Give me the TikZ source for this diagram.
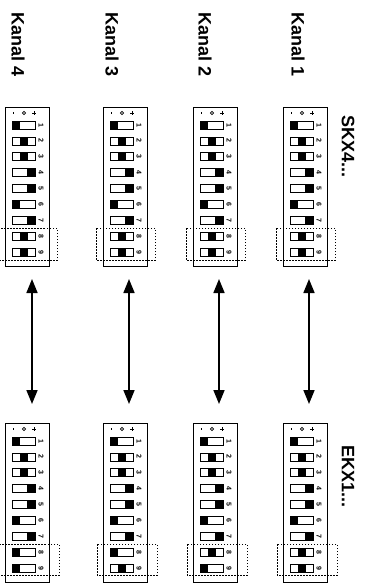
\documentclass[tikz,border=0pt]{standalone}
\usepackage{fontspec}
\setmainfont{Liberation Sans}
\usetikzlibrary{arrows.meta}
\tikzset{
  frame/.style={draw, line width=0.9pt, inner sep=0pt, minimum width=44pt, minimum height=159pt, anchor=north west},
  swbox/.style={draw, line width=0.7pt},
  dashbox/.style={draw, line width=0.6pt, dash pattern=on 1.5pt off 1.5pt},
  biarrow/.style={line width=1.7pt, {Triangle[length=14pt,width=11pt]}-{Triangle[length=14pt,width=11pt]}},
  lbl/.style={font=\bfseries\fontsize{18}{18}\selectfont, rotate=-90, inner sep=0pt, anchor=west},
  num/.style={font=\bfseries\fontsize{7}{7}\selectfont, rotate=-90, inner sep=0pt},
}
\newcommand\dipblock[4]{%
  \begin{scope}[shift={(#1,#2)}]
    \node[frame] (#3) at (0,0) {};
    \fill (7.5,5) rectangle (8.5,7);
    \draw[line width=0.8pt] (19,6) circle (1.6);
    \draw[line width=0.8pt] (29,4) -- (29,8) (27,6) -- (31,6);
    \foreach \p [count=\i] in {#4} {
      \pgfmathsetmacro\yy{18+(\i-1)*15.9}
      \draw[swbox] (7,\yy-4) rectangle (30,\yy+4);
      \fill (\p,\yy-4) rectangle ++(8,8);
      \node[num] at (36,\yy) {\i};
    }
  \end{scope}}
\begin{document}
\begin{tikzpicture}[x=1pt,y=-1pt]
\useasboundingbox (0,0) rectangle (365,584);
\clip (0,0) rectangle (365,584);
% labels
\node[lbl] (k1) at (298,12) {Kanal 1};
\node[lbl] (k2) at (205,12) {Kanal 2};
\node[lbl] (k3) at (112,12) {Kanal 3};
\node[lbl] (k4) at (18,12) {Kanal 4};
\node[lbl] (skx) at (348,115) {SKX4...};
\node[lbl] (ekx) at (348,445) {EKX1...};
% top blocks
\dipblock{283}{107}{t1}{7,14.5,14.5,22,22,7,22,14.5,14.5}
\dipblock{193}{107}{t2}{7,14.5,14.5,22,22,7,22,14.5,14.5}
\dipblock{103}{107}{t3}{7,14.5,14.5,22,22,7,22,14.5,14.5}
\dipblock{5}{107}{t4}{7,14.5,14.5,22,22,7,22,14.5,14.5}
% bottom blocks
\dipblock{283}{423}{b1}{7,14.5,14.5,22,22,7,22,14.5,14.5}
\dipblock{193}{423}{b2}{7,14.5,14.5,22,22,7,22,14.5,7}
\dipblock{103}{423}{b3}{7,14.5,14.5,22,22,7,22,7,14.5}
\dipblock{5}{423}{b4}{7,14.5,14.5,22,22,7,22,7,7}
% dashed boxes
\foreach \bx in {283,193,103,5} {
  \draw[dashbox] (\bx-7,228) rectangle (\bx+52,260);
  \draw[dashbox] (\bx-6,544) rectangle (\bx+54,575);
}
% arrows
\foreach \c/\ax in {1/309,2/219,3/129,4/32} {
  \coordinate (u\c) at (\ax,279);
  \coordinate (d\c) at (\ax,404);
  \draw[biarrow] (u\c) -- (d\c);
}
\end{tikzpicture}
\end{document}
